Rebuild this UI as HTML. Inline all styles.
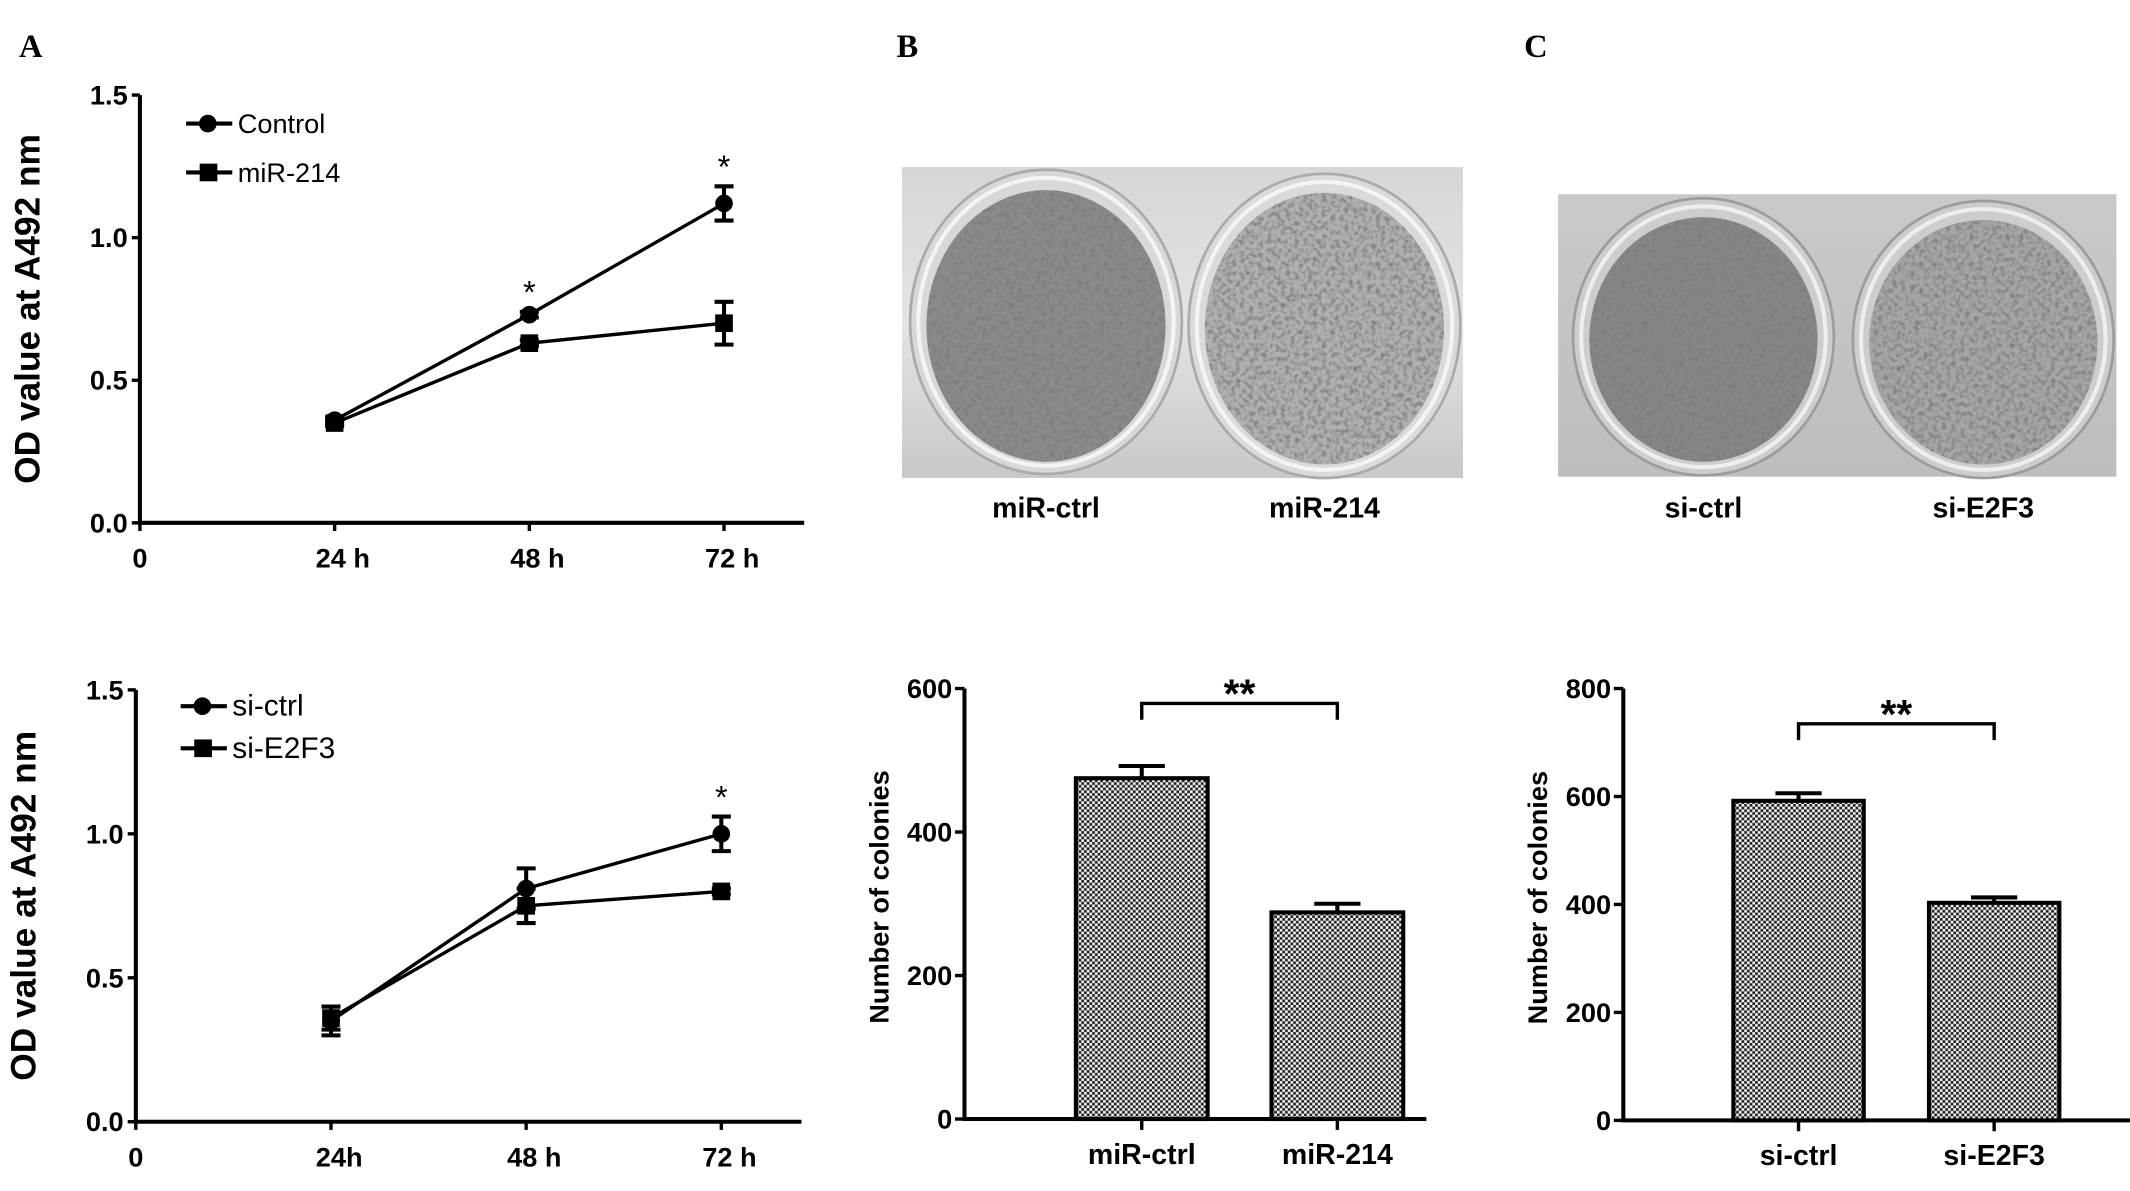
<!DOCTYPE html>
<html><head><meta charset="utf-8"><style>
html,body{margin:0;padding:0;background:#fff}
svg{display:block}
text{font-family:"Liberation Sans",sans-serif}
</style></head><body>
<svg id="fig" width="2130" height="1191" viewBox="0 0 1568 877" preserveAspectRatio="none" xmlns="http://www.w3.org/2000/svg">
<defs>
<pattern id="chk" width="4" height="4" patternUnits="userSpaceOnUse">
<rect width="4" height="4" fill="#f2f2f2"/><rect width="2" height="2" fill="#222"/><rect x="2" y="2" width="2" height="2" fill="#222"/>
</pattern>
<filter id="noise" x="0" y="0" width="1" height="1"><feTurbulence type="fractalNoise" baseFrequency="0.3" numOctaves="2" seed="3"/><feColorMatrix type="matrix" values="0 0 0 0 0.2 0 0 0 0 0.2 0 0 0 0 0.2 0 0 0 -2.4 1.4"/></filter>
<pattern id="spk" width="200" height="220" patternUnits="userSpaceOnUse">
<rect width="200" height="220" filter="url(#noise)"/>
</pattern>
<linearGradient id="bgB" x1="0" y1="0" x2="0" y2="1"><stop offset="0" stop-color="#d6d6d6"/><stop offset="0.5" stop-color="#e4e4e4"/><stop offset="1" stop-color="#c8c8c8"/></linearGradient>
<linearGradient id="bgC" x1="0" y1="0" x2="0" y2="1"><stop offset="0" stop-color="#c9c9c9"/><stop offset="1" stop-color="#bdbdbd"/></linearGradient>
</defs>

<text x="14" y="42" style="font-family:'Liberation Serif',serif" font-weight="bold" font-size="24">A</text>
<text x="660" y="42" style="font-family:'Liberation Serif',serif" font-weight="bold" font-size="24">B</text>
<text x="1122" y="42" style="font-family:'Liberation Serif',serif" font-weight="bold" font-size="24">C</text>

<g>
<rect x="664" y="123" width="413" height="229" fill="url(#bgB)"/>
<ellipse cx="770" cy="237" rx="100" ry="112" fill="#d8d8d8" stroke="#aaa" stroke-width="2"/>
<ellipse cx="770" cy="237" rx="94" ry="106" fill="none" stroke="#f4f4f4" stroke-width="3"/>
<ellipse cx="770" cy="240" rx="88" ry="100" fill="#8a8a8a"/>
<ellipse cx="770" cy="240" rx="88" ry="100" fill="url(#spk)"/>
<ellipse cx="975" cy="240" rx="100" ry="112" fill="#dadada" stroke="#aaa" stroke-width="2"/>
<ellipse cx="975" cy="240" rx="94" ry="106" fill="none" stroke="#f4f4f4" stroke-width="3"/>
<ellipse cx="975" cy="242" rx="88" ry="100" fill="#b0b0b0"/>
<ellipse cx="975" cy="242" rx="88" ry="100" fill="url(#spk)"/>
</g>
<g>
<rect x="1147" y="143" width="411" height="208" fill="url(#bgC)"/>
<ellipse cx="1254" cy="248" rx="96" ry="102" fill="#cdcdcd" stroke="#9c9c9c" stroke-width="2"/>
<ellipse cx="1254" cy="248" rx="90" ry="96" fill="none" stroke="#eee" stroke-width="3"/>
<ellipse cx="1254" cy="250" rx="84" ry="90" fill="#868686"/>
<ellipse cx="1254" cy="250" rx="84" ry="90" fill="url(#spk)"/>
<ellipse cx="1460" cy="250" rx="96" ry="102" fill="#cdcdcd" stroke="#9c9c9c" stroke-width="2"/>
<ellipse cx="1460" cy="250" rx="90" ry="96" fill="none" stroke="#eee" stroke-width="3"/>
<ellipse cx="1460" cy="252" rx="84" ry="90" fill="#a6a6a6"/>
<ellipse cx="1460" cy="252" rx="84" ry="90" fill="url(#spk)"/>
</g>
<text x="770" y="381" text-anchor="middle" font-weight="bold" font-size="21">miR-ctrl</text>
<text x="975" y="381" text-anchor="middle" font-weight="bold" font-size="21">miR-214</text>
<text x="1254" y="381" text-anchor="middle" font-weight="bold" font-size="21">si-ctrl</text>
<text x="1460" y="381" text-anchor="middle" font-weight="bold" font-size="21">si-E2F3</text>
</svg>
<script>
// ---- Line chart A top ----
const timeLabels = ["24 h", "48 h", "72 h"];
const timeValues = [24, 48, 72];
const yTicksOD = [0.0, 0.5, 1.0, 1.5];
const controlMean = [0.36, 0.73, 1.12];
const controlErr = [0.01, 0.01, 0.06];
const mir214Mean = [0.35, 0.63, 0.70];
const mir214Err = [0.01, 0.01, 0.075];
// ---- Line chart A bottom ----
const timeLabels2 = ["24h", "48 h", "72 h"];
const siCtrlMean = [0.35, 0.81, 1.00];
const siCtrlErr = [0.05, 0.07, 0.06];
const siE2F3Mean = [0.36, 0.75, 0.80];
const siE2F3Err = [0.04, 0.06, 0.01];
// ---- Bar chart B ----
const barCatsB = ["miR-ctrl", "miR-214"];
const barValsB = [475, 288];
const barErrB = [17, 12];
const yTicksB = [0, 200, 400, 600];
// ---- Bar chart C ----
const barCatsC = ["si-ctrl", "si-E2F3"];
const barValsC = [592, 403];
const barErrC = [14, 10];
const yTicksC = [0, 200, 400, 600, 800];

const NS = "http://www.w3.org/2000/svg";
const svg = document.getElementById("fig");
function mk(tag, attrs, parent) {
  const e = document.createElementNS(NS, tag);
  for (const k in attrs) e.setAttribute(k, attrs[k]);
  (parent || svg).appendChild(e);
  return e;
}

function lineChart(o) {
  const g = mk("g", {});
  
  
  const xS = t => o.x0 + (t / 72) * (o.x72 - o.x0);
  const yS = v => o.yb + (v / 1.5) * (o.yt - o.yb);
  const ax = mk("path", {d:`M${o.x0},${o.yt} V${o.yb} H${o.xe}`, stroke:"#000", "stroke-width":3, fill:"none"}, g);
  
  
  yTicksOD.forEach(v => {
    mk("line", {x1:o.x0-6, x2:o.x0, y1:yS(v), y2:yS(v), stroke:"#000", "stroke-width":2.5}, g);
    const t = mk("text", {x:o.x0-9, y:yS(v)+7, "text-anchor":"end", "font-weight":"bold", "font-size":20}, g);
    t.textContent = v.toFixed(1);
    
    
  });
  const zt = mk("text", {x:o.x0, y:o.yb+33, "text-anchor":"middle", "font-weight":"bold", "font-size":20}, g);
  zt.textContent = "0";
  
  
  mk("line", {x1:o.x0, x2:o.x0, y1:o.yb, y2:o.yb+6, stroke:"#000", "stroke-width":2.5}, g);
  timeValues.forEach((tv, i) => {
    mk("line", {x1:xS(tv), x2:xS(tv), y1:o.yb, y2:o.yb+6, stroke:"#000", "stroke-width":2.5}, g);
    const t = mk("text", {x:xS(tv)+6, y:o.yb+33, "text-anchor":"middle", "font-weight":"bold", "font-size":20}, g);
    t.textContent = o.labels[i];
    
    
  });
  const yt = mk("text", {x:0, y:0, transform:`translate(${o.x0-74},${(o.yt+o.yb)/2}) rotate(-90)`, "text-anchor":"middle", "font-weight":"bold", "font-size":26}, g);
  yt.textContent = "OD value at A492 nm";
  
  
  o.series.forEach(s => {
    const pts = timeValues.map((tv, i) => `${xS(tv)},${yS(s.mean[i])}`).join(" ");
    const pl = mk("polyline", {points:pts, fill:"none", stroke:"#000", "stroke-width":2.5}, g);
    
    
    timeValues.forEach((tv, i) => {
      const x = xS(tv), y1 = yS(s.mean[i] + s.err[i]), y2 = yS(s.mean[i] - s.err[i]);
      const eb = mk("path", {d:`M${x},${y1} V${y2} M${x-7},${y1} H${x+7} M${x-7},${y2} H${x+7}`, stroke:"#000", "stroke-width":3, fill:"none"}, g);
      
      
      let m;
      if (s.shape === "circle") m = mk("circle", {cx:x, cy:yS(s.mean[i]), r:6.5, fill:"#000"}, g);
      else m = mk("rect", {x:x-6.5, y:yS(s.mean[i])-6.5, width:13, height:13, fill:"#000"}, g);
      
      
    });
  });
  o.stars.forEach(i => {
    const s = o.series[0];
    const st = mk("text", {x:xS(timeValues[i]), y:yS(s.mean[i] + s.err[i]) - 6, "text-anchor":"middle", "font-size":24}, g);
    st.textContent = "*";
    
    
  });
  o.series.forEach((s, k) => {
    const ly = o.legY[k];
    mk("line", {x1:o.legX, x2:o.legX+34, y1:ly, y2:ly, stroke:"#000", "stroke-width":3}, g);
    if (s.shape === "circle") mk("circle", {cx:o.legX+16, cy:ly, r:6.5, fill:"#000"}, g);
    else mk("rect", {x:o.legX+10, y:ly-6.5, width:13, height:13, fill:"#000"}, g);
    const lt = mk("text", {x:o.legX+38, y:ly+7, "font-size":o.legFont}, g);
    lt.textContent = s.label;
    
    
  });
}

lineChart({name:"line-chart-mir214", x0:103, x72:533, xe:592, yt:70, yb:385, labels:timeLabels,
  series:[{key:"control", label:"Control", shape:"circle", mean:controlMean, err:controlErr},
          {key:"mir-214", label:"miR-214", shape:"square", mean:mir214Mean, err:mir214Err}],
  stars:[1,2], legX:137, legY:[91,127], legFont:20});
lineChart({name:"line-chart-e2f3", x0:100, x72:531, xe:590, yt:508, yb:826, labels:timeLabels2,
  series:[{key:"si-ctrl", label:"si-ctrl", shape:"circle", mean:siCtrlMean, err:siCtrlErr},
          {key:"si-e2f3", label:"si-E2F3", shape:"square", mean:siE2F3Mean, err:siE2F3Err}],
  stars:[2], legX:133, legY:[520,551], legFont:22});

function barChart(o) {
  const g = mk("g", {});
  
  
  const yS = v => o.yb + (v / o.max) * (o.yt - o.yb);
  const ax = mk("path", {d:`M${o.x0},${o.yt} V${o.yb} H${o.xe}`, stroke:"#000", "stroke-width":3, fill:"none"}, g);
  
  
  o.ticks.forEach(v => {
    mk("line", {x1:o.x0-7, x2:o.x0, y1:yS(v), y2:yS(v), stroke:"#000", "stroke-width":2.5}, g);
    const t = mk("text", {x:o.x0-9, y:yS(v)+7, "text-anchor":"end", "font-weight":"bold", "font-size":20}, g);
    t.textContent = v;
    
    
  });
  const yt = mk("text", {x:0, y:0, transform:`translate(${o.x0-56},${(o.yt+o.yb)/2-5}) rotate(-90)`, "text-anchor":"middle", "font-weight":"bold", "font-size":20}, g);
  yt.textContent = "Number of colonies";
  
  
  const cx = [];
  o.cats.forEach((c, i) => {
    const x = o.bx0 + i * o.step, w = o.bw, mid = x + w / 2;
    cx.push(mid);
    const b = mk("rect", {x:x, y:yS(o.vals[i]), width:w, height:o.yb - yS(o.vals[i]), fill:"url(#chk)", stroke:"#000", "stroke-width":3}, g);
    
    
    const ye = yS(o.vals[i] + o.errs[i]);
    const eb = mk("path", {d:`M${mid},${yS(o.vals[i])} V${ye} M${mid-17},${ye} H${mid+17}`, stroke:"#000", "stroke-width":3, fill:"none"}, g);
    
    
    mk("line", {x1:mid, x2:mid, y1:o.yb, y2:o.yb+8, stroke:"#000", "stroke-width":2.5}, g);
    const t = mk("text", {x:mid, y:o.yb+33, "text-anchor":"middle", "font-weight":"bold", "font-size":21}, g);
    t.textContent = c;
    
    
  });
  const br = mk("path", {d:`M${cx[0]},${o.brY+12} V${o.brY} H${cx[1]} V${o.brY+12}`, stroke:"#000", "stroke-width":2.5, fill:"none"}, g);
  
  
  const st = mk("text", {x:(cx[0]+cx[1])/2, y:o.brY+3, "text-anchor":"middle", "font-weight":"bold", "font-size":30}, g);
  st.textContent = "**";
  
  
}
barChart({name:"bar-chart-b", x0:710, xe:1050, yt:507, yb:824, max:600, ticks:yTicksB, cats:barCatsB, vals:barValsB, errs:barErrB, bx0:792, bw:97, step:144, brY:518});
barChart({name:"bar-chart-c", x0:1195, xe:1568, yt:507, yb:825, max:800, ticks:yTicksC, cats:barCatsC, vals:barValsC, errs:barErrC, bx0:1276, bw:96, step:144, brY:533});
</script>
</body></html>
